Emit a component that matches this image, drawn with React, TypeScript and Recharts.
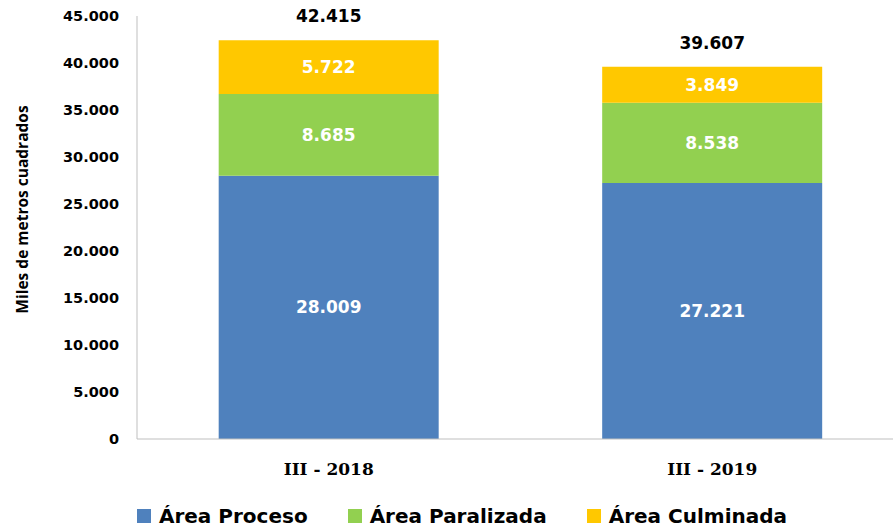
import React from 'react';
import { BarChart, Bar, XAxis, YAxis, Legend, LabelList, Label } from 'recharts';

const categories = ['III - 2018', 'III - 2019'];
const proceso = [28009, 27221];
const paralizada = [8685, 8538];
const culminada = [5722, 3849];
const totals = [42415, 39607];
const yTicks = [0, 5000, 10000, 15000, 20000, 25000, 30000, 35000, 40000, 45000];

const data = categories.map((c, i) => ({
  name: c,
  proceso: proceso[i],
  paralizada: paralizada[i],
  culminada: culminada[i],
  total: totals[i],
}));

const fmt = (v: number) => v.toString().replace(/\B(?=(\d{3})+(?!\d))/g, '.');

const COLORS = { proceso: '#4f81bd', paralizada: '#92d050', culminada: '#ffc800' };

const TotalLabel = (props: any) => {
  const { x, y, width, index } = props;
  return (
    <text
      x={x + width / 2}
      y={y - 24}
      textAnchor="middle"
      dominantBaseline="central"
      fill="#000"
      fontFamily="DejaVu Sans"
      fontWeight="bold"
      fontSize={17}
    >
      {fmt(totals[index])}
    </text>
  );
};

const YLabel = (props: any) => {
  const { viewBox } = props;
  const cx = 22;
  const cy = viewBox.y + viewBox.height / 2 - 18;
  return (
    <text
      x={cx}
      y={cy}
      transform={`rotate(-90 ${cx} ${cy})`}
      textAnchor="middle"
      dominantBaseline="central"
      fontFamily="Open Sans"
      fontWeight="bold"
      fontSize={15.5}
      fill="#000"
    >
      Miles de metros cuadrados
    </text>
  );
};

const LegendContent = (props: any) => {
  const items = [
    { label: 'Área Proceso', color: COLORS.proceso },
    { label: 'Área Paralizada', color: COLORS.paralizada },
    { label: 'Área Culminada', color: COLORS.culminada },
  ];
  return (
    <div style={{ display: 'flex', justifyContent: 'center', alignItems: 'center', gap: 40, marginTop: 17, lineHeight: '20px' }}>
      {items.map((it) => (
        <div key={it.label} style={{ display: 'flex', alignItems: 'center' }}>
          <span style={{ display: 'inline-block', width: 14, height: 14, background: it.color, marginRight: 8 }} />
          <span style={{ fontFamily: 'DejaVu Sans', fontWeight: 'bold', fontSize: 20, color: '#000' }}>{it.label}</span>
        </div>
      ))}
    </div>
  );
};

const segLabel = {
  fill: '#fff',
  fontFamily: 'DejaVu Sans',
  fontWeight: 'bold',
  fontSize: 17,
};

export default function App() {
  return (
    <div style={{ position: 'absolute', left: 0, top: 0, background: '#fff' }}>
      <BarChart
        width={893}
        height={529}
        data={data}
        margin={{ top: 16, right: -11, left: 20, bottom: 0 }}
        barCategoryGap="21.3%"
      >
        <XAxis
          dataKey="name"
          axisLine={{ stroke: '#bfbfbf' }}
          tickLine={false}
          tickSize={0}
          tickMargin={24}
          height={50}
          tick={{ fill: '#000', fontFamily: 'DejaVu Serif', fontWeight: 'bold', fontSize: 17 }}
        />
        <YAxis
          width={117}
          domain={[0, 45000]}
          ticks={yTicks}
          interval={0}
          tickFormatter={fmt}
          axisLine={{ stroke: '#bfbfbf' }}
          tickLine={false}
          tickSize={0}
          tickMargin={18}
          tick={{ fill: '#000', fontFamily: 'DejaVu Sans', fontWeight: 'bold', fontSize: 14.5 }}
        >
          <Label content={<YLabel />} />
        </YAxis>
        <Legend verticalAlign="bottom" height={40} content={<LegendContent />} />
        <Bar dataKey="proceso" stackId="a" fill={COLORS.proceso} isAnimationActive={false}>
          <LabelList dataKey="proceso" position="center" formatter={fmt} style={segLabel} />
        </Bar>
        <Bar dataKey="paralizada" stackId="a" fill={COLORS.paralizada} isAnimationActive={false}>
          <LabelList dataKey="paralizada" position="center" formatter={fmt} style={segLabel} />
        </Bar>
        <Bar dataKey="culminada" stackId="a" fill={COLORS.culminada} isAnimationActive={false}>
          <LabelList dataKey="culminada" position="center" formatter={fmt} style={segLabel} />
          <LabelList dataKey="total" content={<TotalLabel />} />
        </Bar>
      </BarChart>
    </div>
  );
}
